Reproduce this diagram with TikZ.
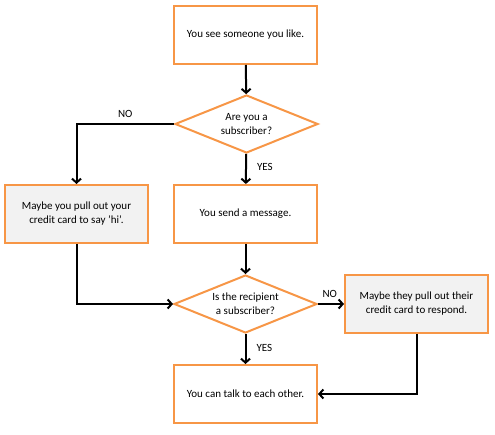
\documentclass[tikz,border=0pt]{standalone}
\usepackage{fontspec}
\setmainfont{Carlito}
\usetikzlibrary{shapes.geometric,arrows.meta}
\definecolor{orng}{HTML}{F79646}
\definecolor{lgray}{HTML}{F2F2F2}

\begin{document}
\begin{tikzpicture}[x=1pt,y=-1pt]
\tikzstyle{every node}+=[font=\fontsize{11}{14}\selectfont, align=center, inner sep=0pt]
\tikzstyle{stepbox}=[draw=orng, line width=2pt, fill=white, minimum width=143pt, minimum height=58pt]
\tikzstyle{askbox}=[stepbox, fill=lgray]
\tikzstyle{query}=[diamond, draw=orng, line width=2pt, fill=white, aspect=2.4, minimum width=143pt, minimum height=58pt]
\tikzstyle{link}=[black, line width=2pt, -{Straight Barb[length=4pt,width=9pt]}]
\useasboundingbox (0,0) rectangle (495,435);
\node [stepbox] (see) at (245.5,35) {You see someone you like.};
\node [query] (sub) at (246.5,124) {Are you a\\subscriber?};
\node [askbox] (hi) at (76.5,214) {Maybe you pull out your\\credit card to say 'hi'.};
\node [stepbox] (send) at (245.5,214) {You send a message.};
\node [query] (rcpt) at (245.5,304) {Is the recipient\\a subscriber?};
\node [askbox] (reply) at (416.5,304) {Maybe they pull out their\\credit card to respond.};
\node [stepbox] (talk) at (245.5,394) {You can talk to each other.};
\draw [link] (see) -- (sub);
\draw [link] (sub.west) -| (hi.north) node [pos=0.25, above=5pt] (no1) {NO};
\draw [link] (sub) -- (send) node [pos=0.45, right=10pt] (yes1) {YES};
\draw [link] (send) -- (rcpt);
\draw [link] (hi.south) |- (rcpt.west);
\draw [link] (rcpt.east) -- (reply.west) node [pos=0.45, above=5pt] (no2) {NO};
\draw [link] (rcpt) -- (talk) node [pos=0.45, right=10pt] (yes2) {YES};
\draw [link] (reply.south) |- (talk.east);
\end{tikzpicture}
\end{document}
